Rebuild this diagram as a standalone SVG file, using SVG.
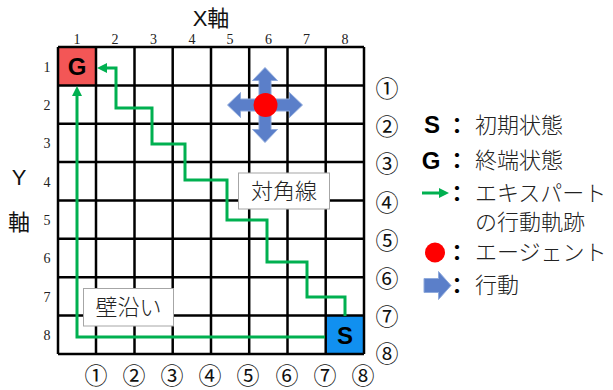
<svg xmlns="http://www.w3.org/2000/svg" width="613" height="390" viewBox="0 0 613 390">
<style>
.grid line{stroke:#000;stroke-width:2.5}
.num{font-family:"Liberation Serif",serif;font-size:14px;fill:#222;text-anchor:middle}
.circ{font-family:"Noto Sans CJK JP",sans-serif;font-size:23px;fill:#111;text-anchor:middle}
.jp{font-family:"Noto Sans CJK JP",sans-serif;font-size:22px;fill:#222;font-weight:300}
.big{font-family:"Liberation Sans","Noto Sans CJK JP",sans-serif;font-size:22px;fill:#111}
.bold{font-family:"Liberation Sans",sans-serif;font-weight:bold;font-size:24px;fill:#000;text-anchor:middle}
.colon{font-family:"Noto Sans CJK JP",sans-serif;font-weight:bold;font-size:22px;fill:#000}
.green{fill:none;stroke:#00B050;stroke-width:3}
.lbl{fill:#fff;stroke:#A6A6A6;stroke-width:1}
.act{fill:#5B7FC9;stroke:#8FAADC;stroke-width:1}
</style>
<defs>
<marker id="ah" viewBox="0 0 10 10" refX="6" refY="5" markerWidth="10" markerHeight="10" markerUnits="userSpaceOnUse" orient="auto">
<path d="M0,0 L10,5 L0,10 z" fill="#00B050"/>
</marker>
</defs>
<rect width="613" height="390" fill="#fff"/>

<g id="axis-labels">
<text class="big" x="211" y="26" text-anchor="middle">X軸</text>
<text class="big" x="19" y="185" text-anchor="middle">Y</text>
<text class="big" x="19" y="230" text-anchor="middle">軸</text>
</g>

<g id="col-numbers">
<text class="num" x="77" y="44">1</text>
<text class="num" x="115" y="44">2</text>
<text class="num" x="153.5" y="44">3</text>
<text class="num" x="192" y="44">4</text>
<text class="num" x="230" y="44">5</text>
<text class="num" x="268.5" y="44">6</text>
<text class="num" x="306.5" y="44">7</text>
<text class="num" x="345" y="44">8</text>
</g>
<g id="row-numbers">
<text class="num" x="47" y="72">1</text>
<text class="num" x="47" y="110">2</text>
<text class="num" x="47" y="148">3</text>
<text class="num" x="47" y="187">4</text>
<text class="num" x="47" y="225">5</text>
<text class="num" x="47" y="263">6</text>
<text class="num" x="47" y="302">7</text>
<text class="num" x="47" y="340">8</text>
</g>

<g id="goal-cell">
<rect x="58" y="47" width="38" height="38" fill="#F35656"/>
<text class="bold" x="77" y="75" font-size="25">G</text>
</g>
<g id="start-cell">
<rect x="325.5" y="316" width="38.5" height="38" fill="#1190F0"/>
<text class="bold" x="345" y="344">S</text>
</g>

<g class="grid" id="grid">
<line x1="58" y1="47" x2="58" y2="354"/>
<line x1="96" y1="47" x2="96" y2="354"/>
<line x1="134.5" y1="47" x2="134.5" y2="354"/>
<line x1="172.7" y1="47" x2="172.7" y2="354"/>
<line x1="211" y1="47" x2="211" y2="354"/>
<line x1="249.2" y1="47" x2="249.2" y2="354"/>
<line x1="287.5" y1="47" x2="287.5" y2="354"/>
<line x1="325.7" y1="47" x2="325.7" y2="354"/>
<line x1="364" y1="47" x2="364" y2="354"/>
<line x1="58" y1="47" x2="364" y2="47"/>
<line x1="58" y1="85.4" x2="364" y2="85.4"/>
<line x1="58" y1="123.7" x2="364" y2="123.7"/>
<line x1="58" y1="162" x2="364" y2="162"/>
<line x1="58" y1="200.5" x2="364" y2="200.5"/>
<line x1="58" y1="238.8" x2="364" y2="238.8"/>
<line x1="58" y1="277.2" x2="364" y2="277.2"/>
<line x1="58" y1="315.6" x2="364" y2="315.6"/>
<line x1="58" y1="354" x2="364" y2="354"/>
</g>

<g id="connectors">
<path class="green" d="M325 337 H77 V90" marker-end="url(#ah)"/>
<path class="green" d="M345 316 V297 H307 V262 H267 V220 H227 V180 H185 V144 H152 V108 H116 V68 H101" marker-end="url(#ah)"/>
</g>

<g id="agent">
<polygon class="act" points="265,67.5 277.5,80.5 271,80.5 271,99 289.5,99 289.5,92.5 302.5,105 289.5,117.5 289.5,111 271,111 271,129.5 277.5,129.5 265,142.5 252.5,129.5 259,129.5 259,111 240.5,111 240.5,117.5 227.5,105 240.5,92.5 240.5,99 259,99 259,80.5 252.5,80.5"/>
<circle cx="265.5" cy="105" r="12" fill="#FF0000"/>
</g>

<g id="label-diagonal">
<rect class="lbl" x="238.5" y="173" width="91" height="36"/>
<text class="jp" x="284" y="199" text-anchor="middle" font-size="23">対角線</text>
</g>
<g id="label-wall">
<rect class="lbl" x="83.5" y="288.5" width="90" height="37.5"/>
<text class="jp" x="128.5" y="315" text-anchor="middle" font-size="23">壁沿い</text>
</g>

<g id="right-numbers">
<text class="circ" x="387" y="97">①</text>
<text class="circ" x="387" y="135">②</text>
<text class="circ" x="387" y="172">③</text>
<text class="circ" x="387" y="211">④</text>
<text class="circ" x="387" y="249">⑤</text>
<text class="circ" x="387" y="287">⑥</text>
<text class="circ" x="387" y="325">⑦</text>
<text class="circ" x="387" y="362">⑧</text>
</g>
<g id="bottom-numbers">
<text class="circ" x="96" y="384">①</text>
<text class="circ" x="134" y="384">②</text>
<text class="circ" x="172" y="384">③</text>
<text class="circ" x="210" y="384">④</text>
<text class="circ" x="248" y="384">⑤</text>
<text class="circ" x="287" y="384">⑥</text>
<text class="circ" x="325" y="384">⑦</text>
<text class="circ" x="363" y="384">⑧</text>
</g>

<g id="legend">
<text class="bold" x="432" y="133">S</text>
<text class="colon" x="446" y="133">：</text>
<text class="jp" x="475" y="133">初期状態</text>
<text class="bold" x="431" y="169" font-size="25">G</text>
<text class="colon" x="446" y="168">：</text>
<text class="jp" x="475" y="168">終端状態</text>
<line class="green" x1="422" y1="193" x2="445" y2="193" marker-end="url(#ah)"/>
<text class="colon" x="446" y="201">：</text>
<text class="jp" x="475" y="201">エキスパート</text>
<text class="jp" x="475" y="230">の行動軌跡</text>
<circle cx="435" cy="252.5" r="10" fill="#FF0000"/>
<text class="colon" x="446" y="260">：</text>
<text class="jp" x="475" y="260">エージェント</text>
<polygon class="act" points="424,278.5 438.5,278.5 438.5,271.5 451,285.5 438.5,299.5 438.5,292.5 424,292.5"/>
<text class="colon" x="446" y="293">：</text>
<text class="jp" x="475" y="293">行動</text>
</g>
</svg>
